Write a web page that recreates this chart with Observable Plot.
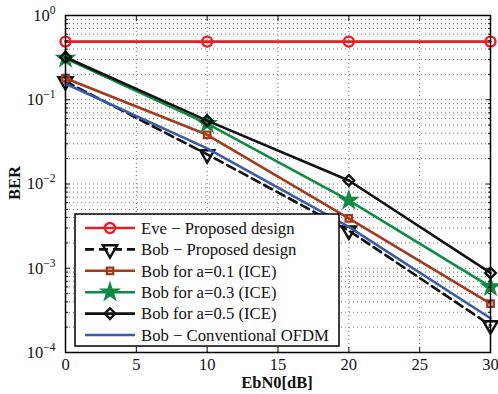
<!DOCTYPE html>
<html><head><meta charset="utf-8">
<script src="https://cdn.jsdelivr.net/npm/d3@7"></script>
<script src="https://cdn.jsdelivr.net/npm/@observablehq/plot@0.6"></script>
<style>
body{margin:0;background:#fff;}
#chart{width:498px;height:394px;}
</style></head>
<body><div id="chart"></div>
<script>
// ---- data ----
const ebn0 = [0, 10, 20, 30];
const eve = [0.49, 0.49, 0.49, 0.49];
const bobProposed = [0.165, 0.0225, 0.0028, 0.00021];
const bobA01 = [0.18, 0.0384, 0.0039, 0.00038];
const bobA03 = [0.31, 0.052, 0.0064, 0.0006];
const bobA05 = [0.32, 0.0565, 0.011, 0.00088];
const bobConv = [0.155, 0.0265, 0.0031, 0.000255];
const seriesNames = ["Eve − Proposed design", "Bob − Proposed design", "Bob for a=0.1 (ICE)", "Bob for a=0.3 (ICE)", "Bob for a=0.5 (ICE)", "Bob − Conventional OFDM"];
const seriesValues = [eve, bobProposed, bobA01, bobA03, bobA05, bobConv];
const xTicks = [0, 5, 10, 15, 20, 25, 30];
const yMajor = [1e-4, 1e-3, 1e-2, 1e-1, 1];

// ---- styles ----
const styles = [
  {color: "#ec1c24", symbol: "circle", r: 5, fill: "none", dash: null},
  {color: "#111111", symbol: "triangle", r: 5.3, fill: "none", dash: "9,5", rotate: 180},
  {color: "#a23b1e", symbol: "square", r: 3.6, fill: "none", dash: null},
  {color: "#0f8a42", symbol: "star", r: 4.6, fill: "#0f8a42", dash: null},
  {color: "#111111", symbol: "diamond2", r: 4.8, fill: "none", dash: null},
  {color: "#3b5ba9", symbol: null, r: 0, fill: "none", dash: null}
];
const font = "'Liberation Serif','Times New Roman',serif";

const yMinor = [];
for (let k = -4; k < 0; k++) for (let m = 2; m <= 9; m++) yMinor.push(m * Math.pow(10, k));
const yAll = yMajor.concat(yMinor);

const marks = [
  Plot.gridY(yAll, {stroke: "#555", strokeOpacity: 0.8, strokeDasharray: "1,3"}),
  Plot.gridX(xTicks.slice(1, -1), {stroke: "#555", strokeOpacity: 0.8, strokeDasharray: "1,3"})
];
seriesValues.forEach((vals, i) => {
  const rows = ebn0.map((x, j) => ({x, y: vals[j]}));
  const s = styles[i];
  marks.push(Plot.line(rows, {x: "x", y: "y", stroke: s.color, strokeWidth: 2.6, strokeDasharray: s.dash}));
  if (s.symbol) marks.push(Plot.dot(rows, {x: "x", y: "y", symbol: s.symbol, r: s.r, stroke: s.color, fill: s.fill, strokeWidth: 2.4, rotate: s.rotate || 0}));
});
marks.push(
  Plot.axisY({ticks: yMajor, tickSize: -5, tickPadding: 15, tickFormat: d => "E" + Math.round(Math.log10(d)), label: null, fontSize: 16.5}),
  Plot.axisY({ticks: yMinor, tickSize: -3, tickFormat: () => "", label: null}),
  Plot.axisY({anchor: "right", ticks: yMajor, tickSize: -5, tickFormat: () => "", label: null}),
  Plot.axisY({anchor: "right", ticks: yMinor, tickSize: -3, tickFormat: () => "", label: null}),
  Plot.axisX({ticks: xTicks, tickSize: -5, tickPadding: 11, label: null, fontSize: 16.5}),
  Plot.axisX({anchor: "top", ticks: xTicks, tickSize: -5, tickFormat: () => "", label: null}),
  Plot.frame({stroke: "#000", strokeWidth: 1.5})
);

const svg = Plot.plot({
  width: 498, height: 394,
  marginLeft: 65, marginRight: 8, marginTop: 15, marginBottom: 42,
  style: {fontFamily: font, fontSize: "16px", background: "#fff", color: "#111"},
  x: {domain: [0, 30]},
  y: {type: "log", domain: [1e-4, 1]},
  marks
});
document.getElementById("chart").appendChild(svg);

// superscript exponents on y tick labels
svg.querySelectorAll('g[aria-label="y-axis tick label"] text').forEach(t => {
  const txt = t.textContent;
  if (!txt.startsWith("E")) return;
  const e = +txt.slice(1);
  t.textContent = "10";
  const ts = document.createElementNS("http://www.w3.org/2000/svg", "tspan");
  ts.setAttribute("dy", "-7");
  ts.setAttribute("font-size", "11.5");
  ts.textContent = e < 0 ? "−" + (-e) : String(e);
  t.appendChild(ts);
});

const S = d3.select(svg);
S.append("text").attr("x", 277).attr("y", 388).attr("text-anchor", "middle")
  .attr("font-weight", "bold").attr("font-size", 16.5).attr("font-family", font).attr("fill", "#111").text("EbN0[dB]");
S.append("text").attr("transform", "translate(20,183) rotate(-90)").attr("text-anchor", "middle")
  .attr("font-weight", "bold").attr("font-size", 16.5).attr("font-family", font).attr("fill", "#111").text("BER");

// legend
const L = S.append("g").attr("transform", "translate(75,214)");
L.append("rect").attr("width", 264).attr("height", 132).attr("fill", "#fff").attr("stroke", "#000").attr("stroke-width", 1.5);
const symMap = {circle: d3.symbolCircle, triangle: d3.symbolTriangle, square: d3.symbolSquare, star: d3.symbolStar, diamond2: d3.symbolDiamond2};
seriesNames.forEach((name, i) => {
  const s = styles[i];
  const y = 14 + i * 21.4;
  L.append("line").attr("x1", 10).attr("x2", 60).attr("y1", y).attr("y2", y)
    .attr("stroke", s.color).attr("stroke-width", 2.6).attr("stroke-dasharray", s.dash);
  if (s.symbol) {
    L.append("path").attr("d", d3.symbol(symMap[s.symbol], Math.PI * s.r * s.r)())
      .attr("transform", `translate(35,${y}) rotate(${s.rotate || 0})`)
      .attr("fill", s.fill).attr("stroke", s.color).attr("stroke-width", 2.4);
  }
  L.append("text").attr("x", 66).attr("y", y).attr("dy", "0.35em").attr("font-size", 16.7)
    .attr("text-anchor", "start").attr("font-family", font).attr("fill", "#111").text(name);
});
</script></body></html>
